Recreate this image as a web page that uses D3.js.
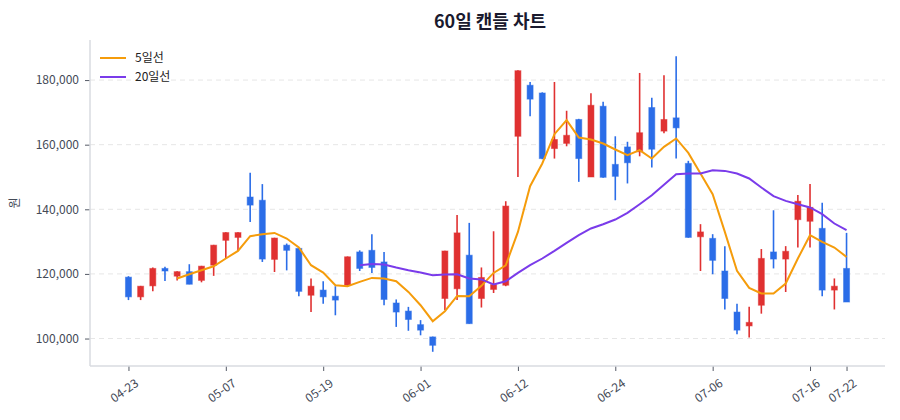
<!DOCTYPE html>
<html>
<head>
<meta charset="utf-8">
<script src="https://cdn.jsdelivr.net/npm/d3@7"></script>
<style>
  body { margin: 0; background: #fff; }
  text { font-family: "Noto Sans CJK KR", "Noto Sans", sans-serif; }
</style>
</head>
<body>
<div id="chart"></div>
<script>
// Data
const dates = [
  "04-23","04-24","04-25","04-28","04-29","04-30","05-02","05-06","05-07",
  "05-08","05-09","05-12","05-13","05-14","05-15","05-16","05-19",
  "05-20","05-21","05-22","05-23","05-26","05-27","05-29","06-01",
  "06-02","06-03","06-04","06-05","06-09","06-10","06-11","06-12",
  "06-13","06-16","06-17","06-18","06-19","06-20","06-23","06-24",
  "06-25","06-26","06-27","06-30","07-01","07-02","07-03","07-06",
  "07-07","07-08","07-09","07-10","07-11","07-14","07-15","07-16",
  "07-17","07-18","07-22"
]
const opens = [
  119000,112900,116300,121700,119300,120700,118000,122700,130400,131300,
  143800,142800,124500,128900,127900,113400,115000,113100,116500,126800,
  127300,123700,111000,108500,104300,100500,112400,115400,125800,112400,
  115200,116500,162600,178400,176000,158800,160400,167800,150000,171900,
  153900,159300,157800,171500,164200,168300,154200,131500,131000,120900,
  108200,103900,110300,126800,124600,136800,136300,134100,115000,121700
]
const highs = [
  119300,116300,122000,122200,120800,123000,122500,129000,132900,132900,
  151300,147800,131200,129400,128100,118600,117700,116200,125400,127300,
  132300,126800,112100,109800,105700,100600,127200,138200,135800,122000,
  133200,142500,183000,179400,176200,179400,170500,168000,175900,173300,
  162600,160900,182200,174500,181500,187400,155000,135400,132300,128600,
  110800,109800,127700,139700,128600,144400,147800,142000,118600,132700
]
const lows = [
  111900,111900,114600,117800,118000,116800,117400,119400,124800,127100,
  136100,123700,120600,121100,113100,108200,110800,107200,116300,120900,
  120300,110300,103600,102400,101000,95900,108800,111900,104600,109600,
  114100,116200,150000,168800,155500,155700,159500,148500,150000,149800,
  142800,148000,156400,152900,163500,155700,131200,120900,119900,109000,
  101300,100300,107700,121700,114400,128200,128200,113100,109000,111300
]
const closes = [
  112900,116200,121700,120900,120700,116800,122400,128900,132800,132800,
  141300,124600,131100,127300,114600,116200,112900,111900,125300,121700,
  122000,112100,108200,105900,102600,97900,127100,132700,104600,118900,
  116700,141000,182900,174100,155700,161600,162900,155700,172200,149900,
  150200,154400,163700,158600,167800,165200,131300,133000,124200,112400,
  102600,105000,124800,124600,127000,142500,140600,115000,116200,111300
]
// 5-day line, starts at the 5th candle
const ma5 = [
  118580,119910,121150,122380,124770,127120,131670,132290,132690,130960,
  128170,122690,120430,116500,116190,117520,118760,118580,117740,114430,
  110310,105360,108450,113190,113100,116300,120310,122690,133000,147150,
  154180,163250,167580,162230,161610,160370,158510,156750,158300,155730,
  159320,161920,157460,151080,144670,133000,120930,115670,113930,113930,
  117030,124770,131980,129910,128170,125260
]
// 20-day line, starts at the 20th candle
const ma20 = [
  122690,123100,122900,121980,121150,120430,119600,119810,119910,118580,
  118300,116720,117740,120310,122690,124770,127120,129600,131980,134060,
  135390,136840,138890,141580,144370,147600,150870,151080,151080,152100,
  151890,151080,149540,146750,144060,142600,141580,140560,138480,135600,
  133530
]
const tickDates = ["04-23","05-07","05-19","06-01","06-12","06-24","07-06","07-16","07-22"]
const yTicks = [100000,120000,140000,160000,180000]

const candles = dates.map((d, i) => ({
  date: d, open: opens[i], high: highs[i], low: lows[i], close: closes[i]
}))
const ma5Points = ma5.map((v, i) => ({ date: dates[i + 4], value: v }))
const ma20Points = ma20.map((v, i) => ({ date: dates[i + 19], value: v }))

const anchoTotal = 900
const altoTotal = 420
const margins = { top: 40, right: 15, bottom: 54, left: 90 }
const ancho = anchoTotal - margins.left - margins.right
const alto = altoTotal - margins.top - margins.bottom

const colorUp = "#e03131"
const colorDown = "#2b6de8"

const x = d3.scalePoint().domain(dates).range([0, ancho]).padding(3.16)
const y = d3.scaleLinear().domain([91500, 192400]).range([alto, 0])

const svg = d3.select("#chart").append("svg")
  .attr("width", anchoTotal)
  .attr("height", altoTotal)

// Title
svg.append("text")
  .attr("x", 490)
  .attr("y", 28)
  .attr("text-anchor", "middle")
  .attr("font-size", "18px")
  .attr("font-weight", "bold")
  .attr("fill", "#1a1a2e")
  .text("60일 캔들 차트")

const g = svg.append("g")
  .attr("transform", `translate(${margins.left},${margins.top})`)

// Grid
g.append("g")
  .selectAll("line")
  .data(yTicks)
  .join("line")
    .attr("x1", 0)
    .attr("x2", ancho)
    .attr("y1", d => y(d))
    .attr("y2", d => y(d))
    .attr("stroke", "#e6e6e6")
    .attr("stroke-dasharray", "5,4")

// Axes
const yAxis = g.append("g")
  .call(d3.axisLeft(y).tickValues(yTicks).tickFormat(d3.format(",")).tickSize(5).tickPadding(6))
yAxis.select(".domain").remove()
yAxis.selectAll(".tick line").attr("stroke", "#555a66")
yAxis.selectAll(".tick text")
  .attr("font-size", "12px")
  .attr("fill", "#444a57")

const xAxis = g.append("g")
  .attr("transform", `translate(0,${alto})`)
  .call(d3.axisBottom(x).tickValues(tickDates).tickSize(5).tickPadding(6))
xAxis.select(".domain").remove()
xAxis.selectAll(".tick line").attr("stroke", "#555a66")
xAxis.selectAll(".tick text")
  .attr("font-size", "12px")
  .attr("fill", "#444a57")
  .attr("text-anchor", "end")
  .attr("dx", "-0.2em")
  .attr("dy", "0.9em")
  .attr("transform", "rotate(-35)")

// axis frame lines
g.append("line")
  .attr("x1", 0).attr("x2", 0).attr("y1", 0).attr("y2", alto)
  .attr("stroke", "#d9dbe1").attr("stroke-width", 1.5)
g.append("line")
  .attr("x1", 0).attr("x2", ancho).attr("y1", alto).attr("y2", alto)
  .attr("stroke", "#d9dbe1").attr("stroke-width", 1.5)

// Y label
svg.append("text")
  .attr("transform", `translate(19,${margins.top + alto / 2}) rotate(-90)`)
  .attr("text-anchor", "middle")
  .attr("font-size", "12px")
  .attr("fill", "#444a57")
  .text("원")

// Candles
const candleColor = d => d.close >= d.open ? colorUp : colorDown
const bodyW = 6

const candleG = g.append("g")
  .selectAll("g")
  .data(candles)
  .join("g")

candleG.append("line")
  .attr("x1", d => x(d.date))
  .attr("x2", d => x(d.date))
  .attr("y1", d => y(d.high))
  .attr("y2", d => y(d.low))
  .attr("stroke", candleColor)
  .attr("stroke-width", 1.6)

candleG.append("rect")
  .attr("x", d => x(d.date) - bodyW / 2)
  .attr("y", d => y(Math.max(d.open, d.close)))
  .attr("width", bodyW)
  .attr("height", d => Math.max(1.5, Math.abs(y(d.open) - y(d.close))))
  .attr("fill", candleColor)
  .attr("stroke", candleColor)
  .attr("stroke-opacity", 0.5)
  .attr("stroke-width", 1)

// Moving averages
const linea = d3.line()
  .x(d => x(d.date))
  .y(d => y(d.value))

g.append("path")
  .datum(ma5Points)
  .attr("fill", "none")
  .attr("stroke", "#f59c0b")
  .attr("stroke-width", 2)
  .attr("d", linea)

g.append("path")
  .datum(ma20Points)
  .attr("fill", "none")
  .attr("stroke", "#7a3bea")
  .attr("stroke-width", 2)
  .attr("d", linea)

// Legend
const series = [
  { name: "5일선", color: "#f59c0b" },
  { name: "20일선", color: "#7a3bea" }
]
const legend = svg.append("g")
  .attr("transform", "translate(100,58)")

series.forEach((s, i) => {
  const row = legend.append("g")
    .attr("transform", `translate(0, ${i * 19})`)
  row.append("line")
    .attr("x1", 0).attr("x2", 26)
    .attr("stroke", s.color)
    .attr("stroke-width", 2)
  row.append("text")
    .attr("x", 35)
    .attr("y", 4)
    .attr("font-size", "12px")
    .attr("fill", "#222")
    .text(s.name)
})
</script>
</body>
</html>
